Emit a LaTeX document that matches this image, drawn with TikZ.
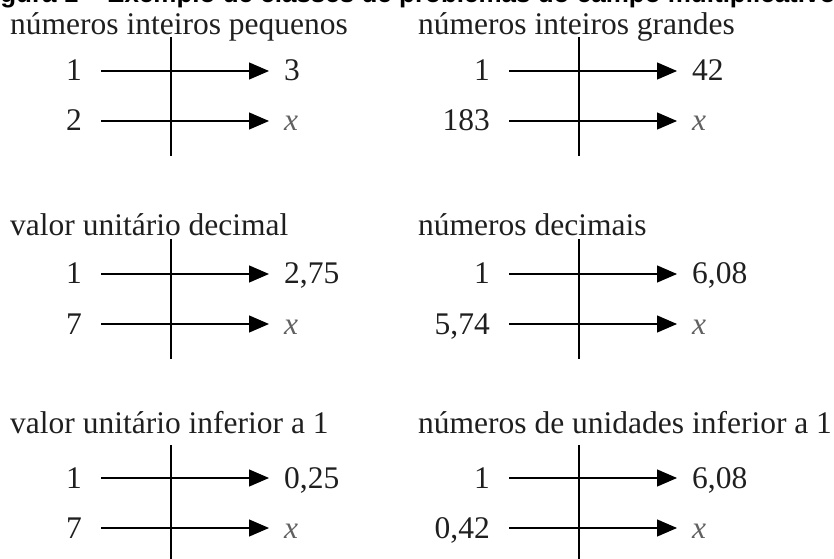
\documentclass[tikz,border=0pt]{standalone}
\usepackage{fontspec}
\setmainfont{Liberation Serif}
\newfontfamily\titlefnt{Liberation Sans}
\usetikzlibrary{arrows.meta}
\tikzset{
  txtfont/.style={font=\fontsize{31.5bp}{36bp}\selectfont},
  lbl/.style={txtfont, inner sep=0pt, anchor=base east, text=black!88},
  val/.style={txtfont, inner sep=0pt, anchor=base west, text=black!88},
  xval/.style={font=\fontsize{31.5bp}{36bp}\selectfont\itshape, inner sep=0pt, anchor=base west, text=black!62},
  ttl/.style={txtfont, inner sep=0pt, anchor=base west, text=black!88},
  figttl/.style={font=\fontsize{26bp}{30bp}\selectfont\titlefnt\bfseries, inner sep=0pt, anchor=base west},
  arr/.style={line width=1.2bp, -{Triangle[length=20bp,width=17bp]}, shorten <=19bp, shorten >=15bp},
  vline/.style={line width=1.1bp}
}
% #1 name, #2 xshift, #3 title baseline, #4 first arrow y, #5 vertical top,
% #6 title, #7 first label, #8 first value, #9 second label
\newcommand\mypanel[9]{%
  \begin{scope}[xshift=#2]
    \node[ttl] (#1t) at (10,#3) {#6};
    \coordinate (#1top) at (171,#5);
    \coordinate (#1bot) at (171,#4+85);
    \coordinate (#1r1) at (171,#4);
    \coordinate (#1r2) at (171,#4+50);
    \node[lbl] (#1l1) at (82,#4+10) {#7};
    \node[val] (#1v1) at (284,#4+10) {#8};
    \node[lbl] (#1l2) at (82,#4+60) {#9};
    \node[xval] (#1v2) at (284,#4+60) {x};
    \draw[vline] (#1top) -- (#1bot);
    \draw[arr] (#1l1.east |- #1r1) -- (#1v1.west |- #1r1);
    \draw[arr] (#1l2.east |- #1r2) -- (#1v2.west |- #1r2);
  \end{scope}}
\begin{document}
\begin{tikzpicture}[x=1bp, y=-1bp]
  \useasboundingbox (0,0) rectangle (834,559);
  \begin{scope}
    \clip (0,0) rectangle (834,559);
    \node[figttl] (fig) at (-23,3) {Figura 1 – Exemplo de classes de problemas do campo multiplicativo};
    \mypanel{a}{0bp}{35}{71}{37}{números inteiros pequenos}{1}{3}{2}
    \mypanel{b}{408bp}{35}{71}{37}{números inteiros grandes}{1}{42}{183}
    \mypanel{c}{0bp}{236}{274}{239}{valor unitário decimal}{1}{2,75}{7}
    \mypanel{d}{408bp}{236}{274}{239}{números decimais}{1}{6,08}{5,74}
    \mypanel{e}{0bp}{433}{478}{445}{valor unitário inferior a 1}{1}{0,25}{7}
    \mypanel{f}{408bp}{433}{478}{445}{números de unidades inferior a 1}{1}{6,08}{0,42}
  \end{scope}
\end{tikzpicture}
\end{document}
